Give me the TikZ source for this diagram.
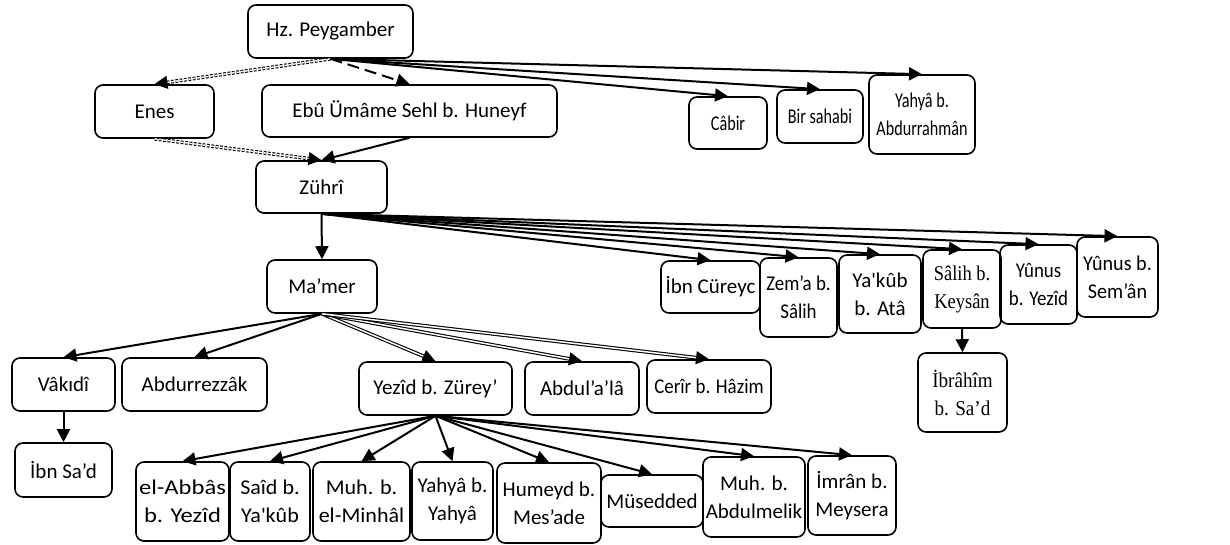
\documentclass[tikz,border=0pt]{standalone}
\usepackage{fontspec}
\setmainfont{Carlito}
\newfontfamily\seriffont{Liberation Serif}
\newfontfamily\fsA[FakeStretch=0.77]{Carlito}
\newfontfamily\fsB[FakeStretch=0.9]{Carlito}
\newfontfamily\fsC[FakeStretch=1.17]{Carlito}
\newfontfamily\fsD[FakeStretch=1.05]{Carlito}
\newfontfamily\fsE[FakeStretch=0.96]{Carlito}
\newfontfamily\serifB[FakeStretch=0.88]{Liberation Serif}
\newfontfamily\serifC[FakeStretch=0.91]{Liberation Serif}
\usetikzlibrary{arrows.meta,calc}
\begin{document}
\begin{tikzpicture}[x=1pt,y=-1pt,
 box/.style={draw, line width=1.6pt, rounded corners=8pt, align=center, inner sep=1pt, font=\fontsize{21}{28}\selectfont},
 fam/.style={font=#1\fontsize{21}{28}\selectfont},
 arr/.style={line width=2pt, -{Triangle[length=13pt,width=13pt]}},
 tip/.style={line width=1pt, -{Triangle[length=13pt,width=13pt]}},
 dbldot/.style={draw, double, line width=1.1pt, double distance=1.4pt, dash pattern=on 2.8pt off 1.6pt, shorten >=11pt},
 dblsolid/.style={draw, double, line width=1.1pt, double distance=1.5pt, shorten >=11pt},
 longdash/.style={line width=2pt, dash pattern=on 12pt off 6pt, -{Triangle[length=13pt,width=13pt]}}
]
\useasboundingbox (0,0) rectangle (1230,545);
% level 0-1
\node[box, minimum width=165pt, minimum height=53pt] (hz) at (330.5,31.5) {Hz. Peygamber};
\node[box, minimum width=119pt, minimum height=53pt] (enes) at (154.5,111.5) {Enes};
\node[box, minimum width=295pt, minimum height=52pt] (ebu) at (409.5,111) {Ebû Ümâme Sehl b. Huneyf};
\node[box, fam=\fsA, minimum width=78pt, minimum height=52pt] (cabir) at (728,123) {Câbir};
\node[box, fam=\fsA, minimum width=86pt, minimum height=53pt] (bir) at (820,116.5) {Bir sahabi};
\node[box, fam=\fsA, minimum width=106pt, minimum height=79pt] (yahyaa) at (922,114.5) {Yahyâ b.\\Abdurrahmân};
% level 2
\node[box, minimum width=131pt, minimum height=52pt] (zuhri) at (321.5,187) {Zührî};
% level 3
\node[box, minimum width=110pt, minimum height=53pt] (mamer) at (322,286.5) {Ma’mer};
\node[box, minimum width=99pt, minimum height=52pt] (ibncur) at (710.5,287) {İbn Cüreyc};
\node[box, fam=\fsB, minimum width=77pt, minimum height=79pt] (zema) at (798.5,297.5) {Zem’a b.\\Sâlih};
\node[box, minimum width=82pt, minimum height=78pt] (yakub) at (880,294) {Ya\textquotesingle kûb\\b. Atâ};
\node[box, fam=\serifB, minimum width=78pt, minimum height=78pt] (salih) at (962,289) {Sâlih b.\\Keysân};
\node[box, fam=\fsB, minimum width=77pt, minimum height=79pt] (yunusa) at (1038.5,284.5) {Yûnus\\b. Yezîd};
\node[box, fam=\fsE, minimum width=81pt, minimum height=80pt] (yunusb) at (1117.5,277) {Yûnus b.\\Sem’ân};
\node[box, fam=\serifC, minimum width=89pt, minimum height=79pt] (ibrahim) at (962.5,392.5) {İbrâhîm\\b. Sa’d};
% level 4
\node[box, minimum width=103pt, minimum height=53pt] (vakidi) at (63.5,384.5) {Vâkıdî};
\node[box, minimum width=145pt, minimum height=53pt] (abdurrezzak) at (194.5,384.5) {Abdurrezzâk};
\node[box, minimum width=153pt, minimum height=53pt] (yezid) at (435.5,388.5) {Yezîd b. Zürey’};
\node[box, minimum width=114pt, minimum height=53pt] (abdula) at (582,388.5) {Abdul’a’lâ};
\node[box, fam=\fsB, minimum width=124pt, minimum height=53pt] (cerir) at (709,386.5) {Cerîr b. Hâzim};
% level 5
\node[box, minimum width=97pt, minimum height=54pt] (ibnsad) at (63.5,470) {İbn Sa’d};
\node[box, fam=\fsC, minimum width=93pt, minimum height=79pt] (abbas) at (182.5,501.5) {el-Abbâs\\b. Yezîd};
\node[box, fam=\fsD, minimum width=80pt, minimum height=79pt] (said) at (270,501.5) {Saîd b.\\Ya\textquotesingle kûb};
\node[box, fam=\fsD, minimum width=97pt, minimum height=79pt] (minhal) at (361.5,501.5) {Muh. b.\\el-Minhâl};
\node[box, minimum width=81pt, minimum height=78pt] (yahyab) at (452.5,501) {Yahyâ b.\\Yahyâ};
\node[box, minimum width=104pt, minimum height=80pt] (humeyd) at (549,503) {Humeyd b.\\Mes’ade};
\node[box, minimum width=102pt, minimum height=52pt] (musedded) at (652,501) {Müsedded};
\node[box, minimum width=102pt, minimum height=80pt] (abdulmelik) at (754,497) {Muh. b.\\Abdulmelik};
\node[box, minimum width=88pt, minimum height=79pt] (imran) at (852,495.5) {İmrân b.\\Meysera};

% edges from Hz. Peygamber
\draw[dbldot] (hz.south) -- (enes.north);
\draw[tip] ($(enes.north)!12pt!(hz.south)$) -- (enes.north);
\draw[longdash] (hz.south) -- (ebu.north);
\draw[arr] (hz.south) -- (cabir.north);
\draw[arr] (hz.south) -- (bir.north);
\draw[arr] (hz.south) -- (yahyaa.north);
% to Zuhri
\draw[dbldot] (enes.south) -- (zuhri.north);
\draw[tip] ($(zuhri.north)!12pt!(enes.south)$) -- (zuhri.north);
\draw[arr] (ebu.south) -- (zuhri.north);
% from Zuhri
\draw[arr] (zuhri.south) -- (mamer.north);
\draw[arr] (zuhri.south) -- (ibncur.north);
\draw[arr] (zuhri.south) -- (zema.north);
\draw[arr] (zuhri.south) -- (yakub.north);
\draw[arr] (zuhri.south) -- (salih.north);
\draw[arr] (zuhri.south) -- (yunusa.north);
\draw[arr] (zuhri.south) -- (yunusb.north);
\draw[arr] (salih.south) -- (ibrahim.north);
% from Ma'mer
\draw[arr] (mamer.south) -- (vakidi.north);
\draw[arr] (mamer.south) -- (abdurrezzak.north);
\draw[dblsolid] (mamer.south) -- (yezid.north);
\draw[tip] ($(yezid.north)!12pt!(mamer.south)$) -- (yezid.north);
\draw[dblsolid] (mamer.south) -- (abdula.north);
\draw[tip] ($(abdula.north)!12pt!(mamer.south)$) -- (abdula.north);
\draw[dblsolid] (mamer.south) -- (cerir.north);
\draw[tip] ($(cerir.north)!12pt!(mamer.south)$) -- (cerir.north);
\draw[arr] (vakidi.south) -- (ibnsad.north);
% from Yezid
\draw[arr] (yezid.south) -- (abbas.north);
\draw[arr] (yezid.south) -- (said.north);
\draw[arr] (yezid.south) -- (minhal.north);
\draw[arr] (yezid.south) -- (yahyab.north);
\draw[arr] (yezid.south) -- (humeyd.north);
\draw[arr] (yezid.south) -- (musedded.north);
\draw[arr] (yezid.south) -- (abdulmelik.north);
\draw[arr] (yezid.south) -- (imran.north);
\end{tikzpicture}
\end{document}
